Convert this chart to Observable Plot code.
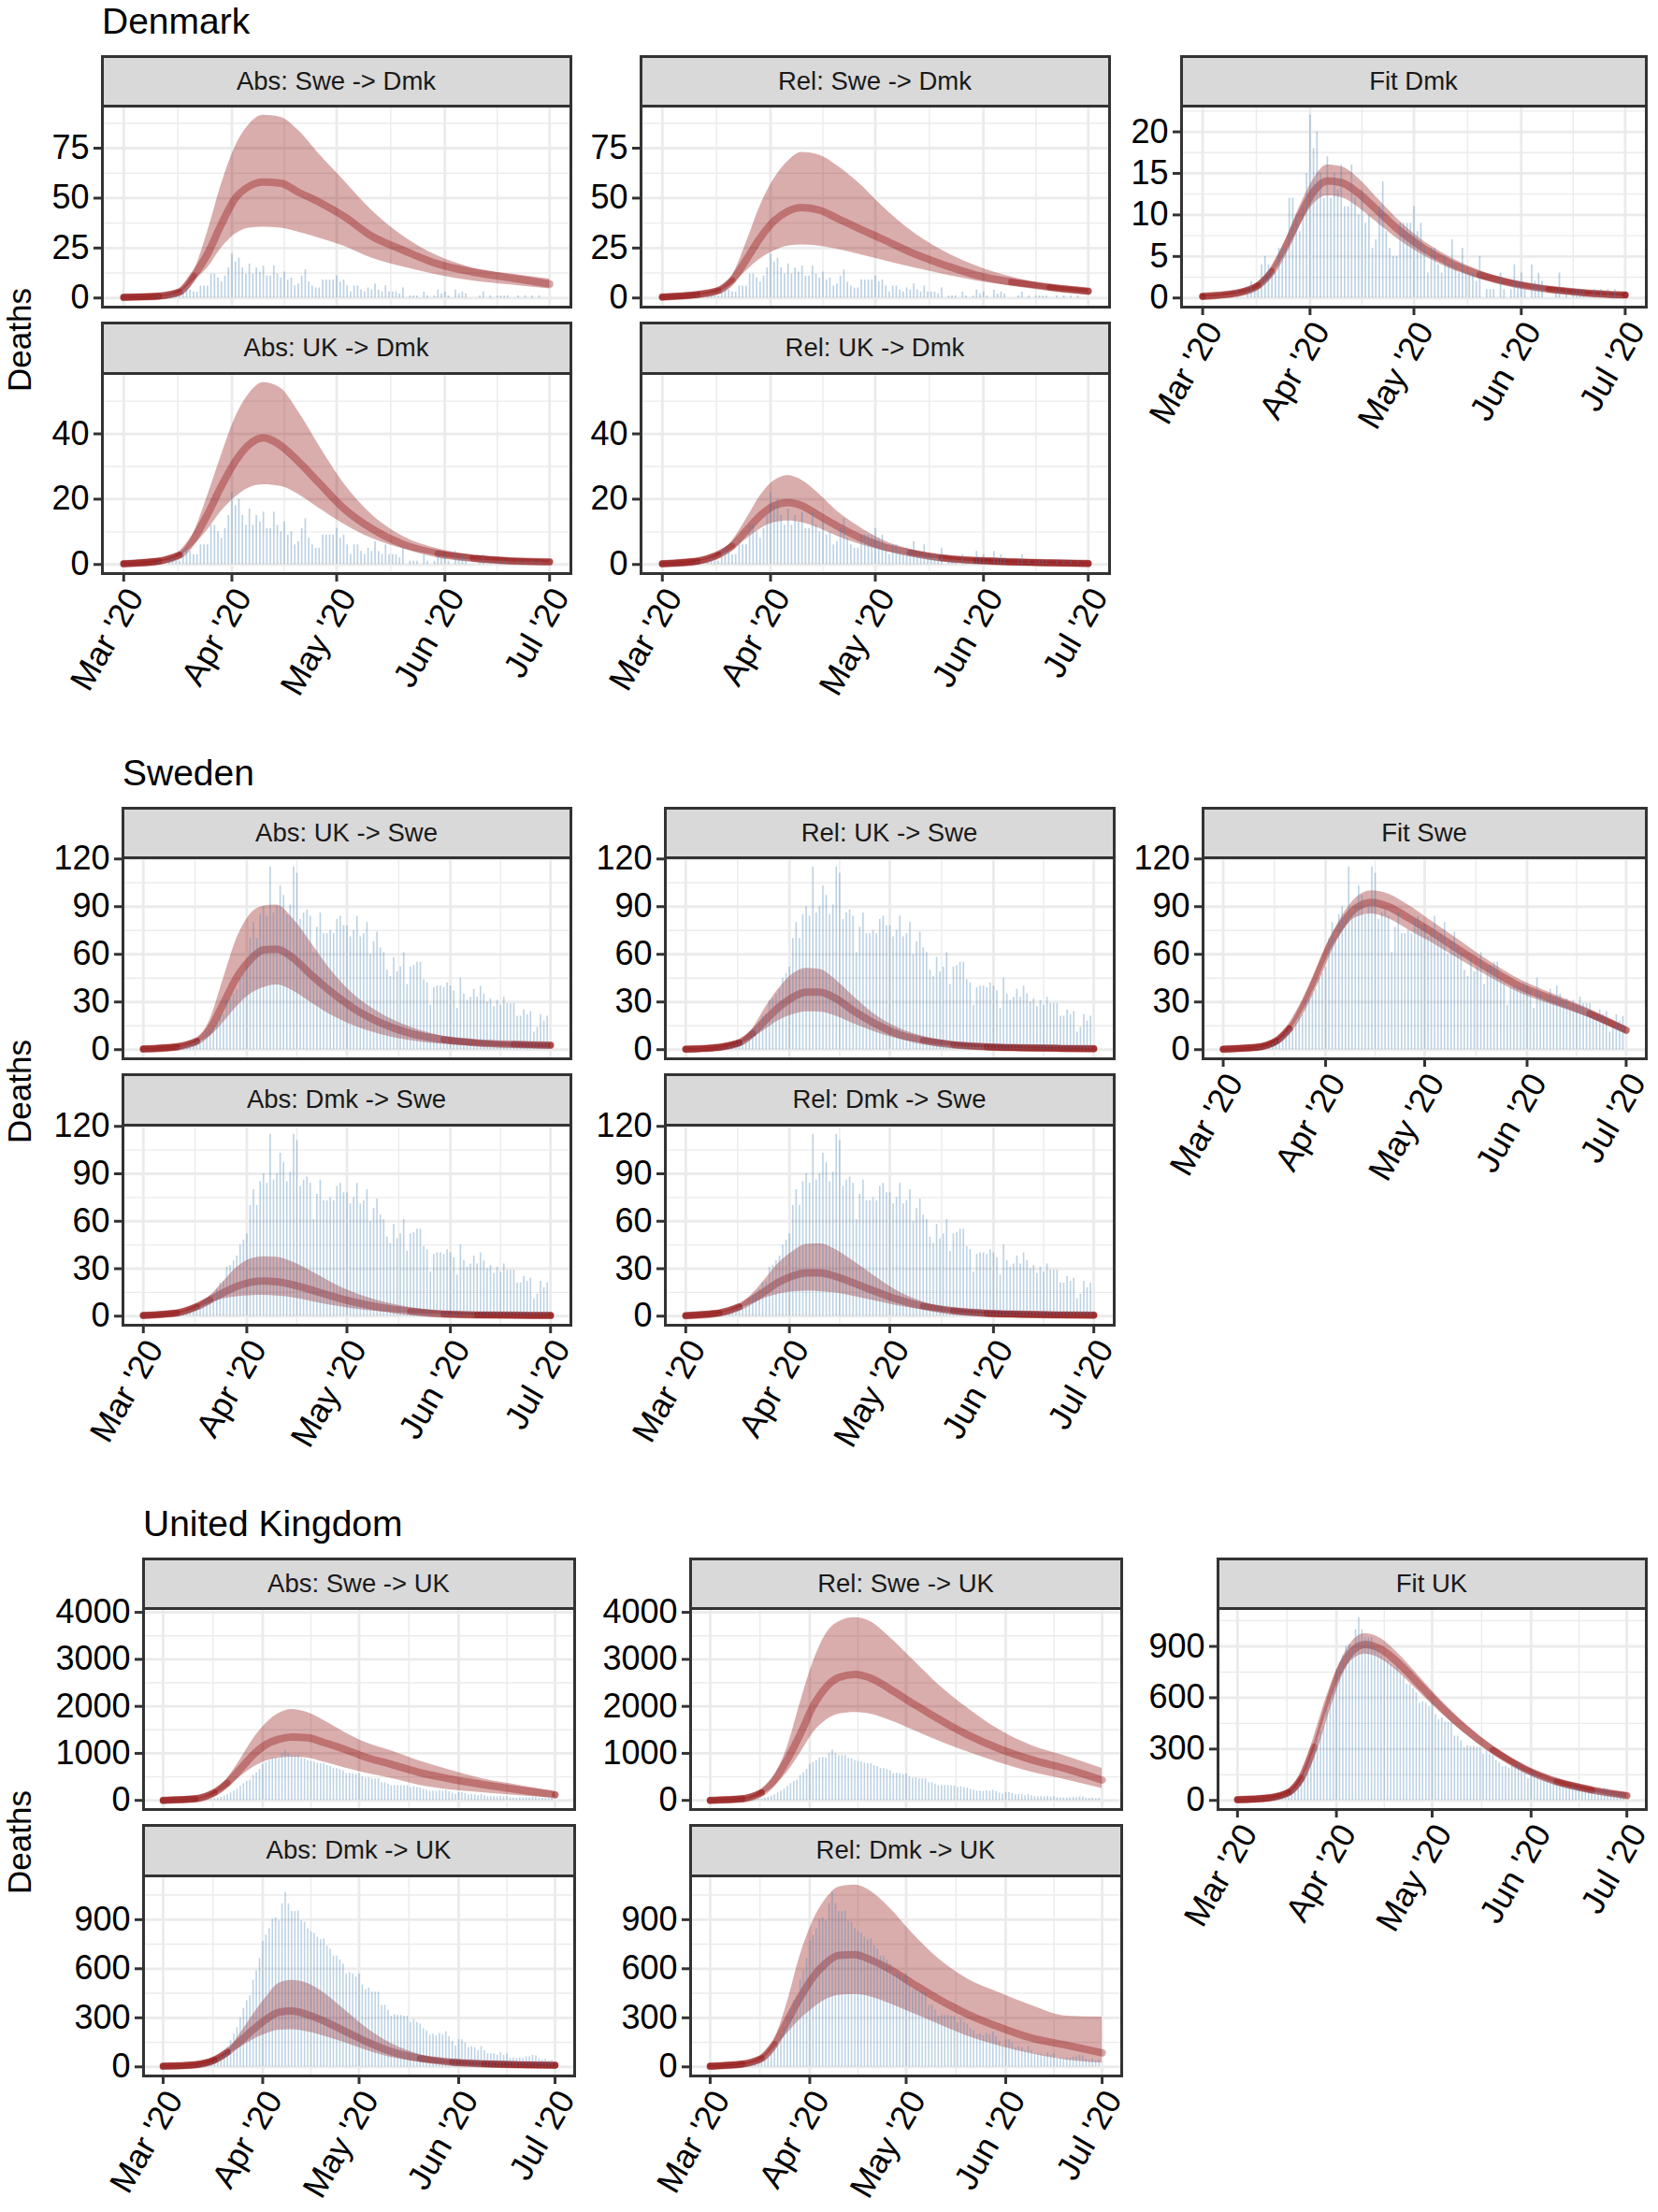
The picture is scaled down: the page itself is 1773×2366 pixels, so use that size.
<!DOCTYPE html>
<html>
<head>
<meta charset="utf-8">
<script src="https://cdn.jsdelivr.net/npm/d3@7"></script>
<script src="https://cdn.jsdelivr.net/npm/@observablehq/plot@0.6"></script>
<style>
  html, body { margin: 0; padding: 0; background: #ffffff; }
  #root { position: relative; width: 1773px; height: 2366px; overflow: hidden;
          font-family: "Liberation Sans", Arial, Helvetica, sans-serif; background: #fff; }
  .strip { position: absolute; box-sizing: border-box; background: #D9D9D9; border: 3px solid #333333;
           display: flex; align-items: center; justify-content: center; font-size: 27.5px; color: #1A1A1A;
           line-height: 1; white-space: nowrap; }
  .title { position: absolute; font-size: 39px; line-height: 1; color: #000; white-space: nowrap; }
  .ylab { position: absolute; width: 240px; height: 35px; font-size: 35px; line-height: 1; text-align: center;
          transform: rotate(-90deg); transform-origin: 50% 50%; color: #000; }
  svg.panel { position: absolute; }
</style>
</head>
<body>
<div id="root"></div>
<script>
// ---------------- data ----------------
const tickDates = ["2020-03-01", "2020-04-01", "2020-05-01", "2020-06-01", "2020-07-01"];
const tickLabels = ["Mar '20", "Apr '20", "May '20", "Jun '20", "Jul '20"];

// daily deaths from 1 Mar 2020 (index 0) to 30 Jun 2020 (index 121)
const deathsDmk = [0,0,0,0,0,0,0,0,0,0, 1,0,0,1,2,1,1,4,5,4, 3,3,6,6,6,12,12,10,8,11,
  15,22,18,20,15,12,17,12,15,13, 16,11,11,16,12,10,13,9,10,6, 7,11,14,8,6,5,5,9,9,9,
  9,11,8,9,6,3,6,6,4,3, 5,4,7,4,3,6,3,3,3,2, 5,0,1,1,1,0,3,1,0,1, 4,2,3,1,0,4,2,3,2,0,
  0,0,1,3,0,1,0,1,1,1, 1,0,0,1,0,1,0,1,0,1, 0,0];
const deathsSwe = [0,0,0,0,0,0,0,0,0,0, 1,1,1,2,3,4,6,6,8,11, 13,14,17,21,22,31,32,35,38,45,
  48,52,70,80,70,85,90,84,115,86, 90,103,97,85,91,115,111,82,86,88, 84,61,77,86,73,73,75,73,82,84,
  78,78,71,75,84,71,73,80,60,68, 74,64,61,50,46,58,49,52,61,41, 52,53,55,55,44,42,28,39,40,40,
  39,42,40,37,26,45,35,31,33,38, 33,40,35,30,32,27,31,28,33,29, 29,29,21,21,25,22,24,11,14,22, 18,21];
const deathsUK = [0,0,0,0,1,1,1,2,3,4, 5,8,10,14,18,25,35,50,65,90, 120,160,200,240,300,357,405,434,530,587,
  663,768,806,845,902,911,892,997,1068,997, 950,950,953,892,883,845,826,816,793,778,
  782,740,720,678,678,654,629,568,577,568, 549,568,501,472,482,457,457,457,376,376,
  348,310,319,315,315,310,310,271,290,271, 262,233,220,195,200,189,204,195,214,185,
  157,128,166,166,147,118,124,118,99,124, 99,80,80,80,71,86,71,80,52,55, 52,55,52,61,61,71,67,48,42,48, 36,42];

// model curves: days after 1 Mar 2020
const curveDays = [0, 10, 16, 20, 24, 28, 32, 36, 40, 45, 50, 56, 63, 71, 80, 90, 100, 111, 122];

const dmkAbsSweMed = [0.3, 0.9, 3, 11, 22, 37, 50, 56, 58, 57.5, 53, 48, 41, 31, 24, 17, 13, 10, 7];
const dmkAbsSweHi  = [0.4, 1.1, 4, 13, 33, 57, 76, 87, 91.5, 90.5, 84, 72, 59, 44, 31, 21, 15, 12, 9.5];
const dmkAbsSweLo  = [0.2, 0.7, 2.5, 8.5, 15, 25, 32, 35, 35.5, 35, 33, 30, 26, 20, 15.5, 11.5, 8.5, 6.5, 4.5];

const dmkRelSweMed = [0.5, 1.7, 3.7, 8.8, 19, 30, 38.5, 43.5, 45.3, 44, 40, 35, 29.5, 23, 17, 11.4, 8, 5.4, 3.4];
const dmkRelSweHi  = [0.6, 2, 4.5, 11, 27.5, 46, 59.7, 68.5, 72.9, 71.5, 66.4, 58, 46, 34, 24, 16, 10.5, 6.6, 4.6];
const dmkRelSweLo  = [0.4, 1.5, 3, 7, 13.5, 19.5, 23.5, 26, 26.6, 26, 24.4, 22, 19, 15.5, 12, 8.5, 6, 4, 2.6];

const dmkAbsUKMed = [0.2, 1, 2.9, 7.7, 15.3, 24, 31.6, 36.8, 38.8, 36.4, 31.6, 24.9, 17.2, 11, 6.2, 3.3, 1.9, 1.1, 0.8];
const dmkAbsUKHi  = [0.3, 1.2, 3.5, 9.6, 21, 33.5, 45, 52.4, 55.7, 54, 46.9, 36.4, 24.9, 15.3, 8.6, 4.8, 2.9, 1.9, 1.4];
const dmkAbsUKLo  = [0.1, 0.8, 2.5, 5.8, 10.5, 16.3, 20.6, 23.5, 24.4, 23.9, 21.5, 17.2, 12.4, 8, 4.8, 2.6, 1.4, 0.8, 0.5];

const dmkRelUKMed = [0.2, 1, 3, 5.6, 10.3, 14.9, 18, 19, 18, 14.9, 11.8, 8.5, 5.6, 3.6, 2, 1.2, 0.8, 0.5, 0.3];
const dmkRelUKHi  = [0.3, 1.2, 3.5, 7.2, 13.8, 21, 25.6, 27.2, 25.8, 21.5, 16.4, 11.8, 7.5, 4.6, 2.8, 1.7, 1.1, 0.7, 0.5];
const dmkRelUKLo  = [0.1, 0.8, 2.5, 4.6, 7.7, 10.8, 12.8, 13.3, 12.8, 11, 8.7, 6.4, 4.3, 2.7, 1.6, 0.9, 0.6, 0.35, 0.2];

const dmkFitMed = [0.2, 0.6, 1.5, 3.2, 6.2, 9.8, 12.8, 14.1, 13.9, 12.6, 10.7, 8.4, 6.2, 4.3, 2.8, 1.7, 1.05, 0.6, 0.35];
const dmkFitHi  = [0.3, 0.8, 1.8, 3.7, 7, 11, 14.3, 16, 15.8, 14.4, 12.2, 9.6, 7.1, 5, 3.3, 2.1, 1.35, 0.8, 0.5];
const dmkFitLo  = [0.1, 0.45, 1.2, 2.7, 5.4, 8.6, 11.3, 12.3, 12.1, 10.9, 9.2, 7.2, 5.3, 3.6, 2.3, 1.35, 0.8, 0.4, 0.2];

const sweAbsUKMed = [0.4, 1.8, 5.3, 13, 29, 45.6, 56.5, 62.8, 63.3, 57.4, 47.6, 36.8, 26, 17, 10.2, 6.3, 4.3, 3.3, 2.8];
const sweAbsUKHi  = [0.5, 2.2, 6.5, 19, 44.7, 70, 85, 90.3, 91, 82, 68, 50.6, 34.8, 23, 14.2, 8.3, 5.9, 4.3, 3.7];
const sweAbsUKLo  = [0.3, 1.5, 4.5, 8.3, 17, 27, 34.8, 39, 40.7, 36.8, 30, 22, 15.1, 9.6, 5.7, 3.3, 2.2, 1.6, 1.2];

const sweRelUKMed = [0.3, 1.5, 4.3, 10.2, 19, 27, 33, 36.2, 36.2, 32, 24.6, 17.1, 10.2, 5.7, 3.1, 1.8, 1.2, 0.8, 0.6];
const sweRelUKHi  = [0.4, 1.8, 5, 13.2, 27, 38.8, 47.6, 51.2, 50.6, 43.7, 33.8, 23, 14.2, 8.3, 4.9, 2.8, 1.8, 1.2, 0.9];
const sweRelUKLo  = [0.2, 1.2, 3.6, 7.5, 13, 18.5, 22, 23.8, 23.6, 21, 16.5, 11.6, 7, 3.9, 2.1, 1.2, 0.8, 0.5, 0.35];

const sweAbsDmkMed = [0.4, 2, 6, 10.3, 14.9, 18.8, 21.4, 22.2, 21.8, 19.8, 16.8, 12.9, 8.9, 5.5, 3, 1.4, 0.8, 0.6, 0.4];
const sweAbsDmkHi  = [0.5, 2.3, 7, 12.9, 21.8, 30.7, 36, 37.6, 37.2, 34, 28.7, 21.8, 14.9, 9.5, 5.5, 3, 1.8, 1.2, 1];
const sweAbsDmkLo  = [0.3, 1.7, 5, 8.3, 10.9, 12.3, 12.9, 13.1, 12.7, 11.5, 9.5, 6.9, 4.6, 2.8, 1.6, 0.9, 0.5, 0.3, 0.2];

const sweRelDmkMed = [0.3, 2, 5.9, 10.6, 16.2, 21.7, 25.4, 27.4, 27.4, 25, 21.1, 16.2, 10.8, 6.3, 3.4, 1.8, 1.2, 0.8, 0.6];
const sweRelDmkHi  = [0.4, 2.4, 7, 14.2, 24, 34, 40.8, 45.4, 45.8, 41.8, 35, 26, 16.2, 8.9, 4.7, 2.6, 1.8, 1.3, 1];
const sweRelDmkLo  = [0.2, 1.7, 5, 8, 11.5, 14, 15.4, 15.8, 15.6, 14.6, 12.6, 9.9, 6.7, 4, 2.2, 1.2, 0.7, 0.4, 0.3];

const sweFitMed = [0.3, 1.4, 5.3, 13.2, 27, 44.7, 64.3, 79, 88.9, 92.7, 90, 83, 74.2, 63.3, 51.5, 39.7, 31.5, 22.6, 12.2];
const sweFitHi  = [0.4, 1.7, 6, 15, 30, 49, 68.5, 84, 95, 100, 98, 91, 81, 69.5, 56.5, 44, 35, 25.5, 14.5];
const sweFitLo  = [0.2, 1.1, 4.6, 11.5, 24, 40.5, 60.5, 74, 83, 85.5, 82.5, 75.5, 67.5, 57.5, 46.5, 35.5, 28, 20, 10];

const ukAbsSweMed = [0, 33, 167, 367, 667, 967, 1187, 1300, 1347, 1333, 1233, 1100, 920, 767, 587, 447, 333, 220, 120];
const ukAbsSweHi  = [5, 40, 200, 467, 867, 1300, 1633, 1847, 1933, 1867, 1700, 1467, 1233, 1053, 833, 633, 453, 320, 187];
const ukAbsSweLo  = [0, 25, 130, 280, 500, 700, 833, 900, 920, 900, 813, 700, 580, 467, 320, 220, 160, 100, 53];

const ukRelSweMed = [0, 33, 167, 433, 867, 1400, 2000, 2400, 2613, 2680, 2600, 2367, 2067, 1733, 1400, 1100, 867, 667, 433];
const ukRelSweHi  = [5, 45, 220, 533, 1133, 2067, 2933, 3533, 3800, 3887, 3800, 3467, 3000, 2467, 1967, 1500, 1167, 933, 680];
const ukRelSweLo  = [0, 25, 120, 300, 600, 1000, 1433, 1700, 1833, 1867, 1833, 1700, 1500, 1267, 1033, 800, 600, 433, 253];

const ukAbsDmkMed = [4, 13, 42, 90, 157, 227, 290, 334, 342, 319, 281, 224, 157, 94, 52, 29, 19, 13, 10];
const ukAbsDmkHi  = [6, 16, 48, 99, 204, 319, 424, 510, 529, 510, 453, 357, 243, 143, 75, 40, 25, 17, 15];
const ukAbsDmkLo  = [2, 10, 36, 75, 118, 166, 201, 224, 227, 214, 189, 151, 103, 57, 29, 13, 8, 4, 2];

const ukRelDmkMed = [4, 17, 52, 138, 281, 424, 548, 634, 682, 686, 654, 596, 510, 415, 323, 243, 176, 132, 86];
const ukRelDmkHi  = [6, 22, 65, 166, 396, 682, 892, 1026, 1099, 1112, 1074, 969, 816, 663, 539, 453, 376, 310, 304];
const ukRelDmkLo  = [2, 13, 42, 118, 204, 290, 357, 411, 438, 443, 428, 386, 329, 262, 189, 128, 80, 42, 23];

const ukFitMed = [4, 15, 46, 129, 313, 552, 755, 874, 911, 883, 810, 696, 561, 423, 294, 184, 110, 61, 28];
const ukFitHi  = [5, 17, 50, 140, 335, 585, 800, 930, 975, 945, 865, 745, 600, 455, 318, 202, 123, 72, 45];
const ukFitLo  = [3, 13, 42, 118, 292, 520, 712, 822, 855, 825, 757, 650, 524, 393, 272, 168, 98, 50, 12];

// y-axis tick values
const yTicksDmkSwe = [0, 25, 50, 75];
const yTicksDmkUK = [0, 20, 40];
const yTicksDmkFit = [0, 5, 10, 15, 20];
const yTicksSwe = [0, 30, 60, 90, 120];
const yTicksUKSwe = [0, 1000, 2000, 3000, 4000];
const yTicksUKDmk = [0, 300, 600, 900];
const yTicksUKFit = [0, 300, 600, 900];

// ---------------- helpers ----------------
const START = Date.UTC(2020, 2, 1);
const END = Date.UTC(2020, 6, 1);
const DAY = 864e5;
const FONT = "'Liberation Sans', Arial, Helvetica, sans-serif";
const DARKRED = "#8B0000";

function mkCurve(med, lo, hi) {
  return curveDays.map((d, i) => ({date: new Date(START + d * DAY), med: med[i], lo: lo[i], hi: hi[i]}));
}
function mkBars(vals) {
  return vals.map((v, i) => ({date: new Date(START + i * DAY), value: v})).filter(d => d.value > 0);
}
const fmtY = d3.format("d");

const root = document.getElementById("root");

function addDiv(cls, text, css) {
  const el = document.createElement("div");
  el.className = cls;
  el.textContent = text;
  Object.assign(el.style, css);
  root.appendChild(el);
  return el;
}

function drawPanel({x0, x1, y0, y1, bars, curve, yMax, yTicks, showX}) {
  const W = x1 - x0, H = y1 - y0;
  const mL = 130, mR = 6, mT = 6, mB = showX ? 175 : 6;
  const yDomain = [-0.05 * yMax, 1.05 * yMax];
  const t0 = new Date(START - 6.1 * DAY), t1 = new Date(END + 6.1 * DAY);
  const step = yTicks[1] - yTicks[0];
  const minorY = [];
  for (let v = yTicks[0] - step / 2; v <= yDomain[1]; v += step) if (v >= yDomain[0]) minorY.push(v);
  const majX = tickDates.map(d => new Date(d));
  const minorX = majX.slice(1).map((d, i) => new Date((+d + +majX[i]) / 2));
  const pxPerDay = W / ((+t1 - +t0) / DAY);
  // width of the uncertainty band in pixels: where it is thin, the overlapping layers look dark
  const pts = curve.map(d => ({...d, bandPx: (d.hi - d.lo) / (yDomain[1] - yDomain[0]) * H}));
  const darkLayers = [3, 6, 10].map(th =>
    Plot.lineY(pts, {x: "date", y: d => (d.bandPx < th ? d.med : NaN), stroke: DARKRED,
                     strokeOpacity: 0.33, strokeWidth: 7, curve: "monotone-x"}));
  const svg = Plot.plot({
    width: W + mL + mR,
    height: H + mT + mB,
    marginLeft: mL, marginRight: mR, marginTop: mT, marginBottom: mB,
    x: {type: "utc", domain: [t0, t1], axis: null},
    y: {domain: yDomain, axis: null},
    style: {fontFamily: FONT, fontSize: "36px", background: "transparent", overflow: "visible", color: "black"},
    marks: [
      Plot.ruleY(minorY, {stroke: "#EBEBEB", strokeWidth: 1.4}),
      Plot.ruleX(minorX, {stroke: "#EBEBEB", strokeWidth: 1.4}),
      Plot.ruleY(yTicks, {stroke: "#EBEBEB", strokeWidth: 2.8}),
      Plot.ruleX(majX, {stroke: "#EBEBEB", strokeWidth: 2.8}),
      Plot.areaY(pts, {x: "date", y1: "lo", y2: "hi", fill: DARKRED, fillOpacity: 0.32, curve: "monotone-x"}),
      Plot.lineY(pts, {x: "date", y: "med", stroke: DARKRED, strokeOpacity: 0.34, strokeWidth: 8, curve: "monotone-x"}),
      ...darkLayers,
      Plot.ruleX(bars, {x: "date", y1: d => 0, y2: "value", stroke: "#4682B4", strokeOpacity: 0.36,
                        strokeWidth: Math.max(1.2, pxPerDay * 0.45)}),
      Plot.frame({stroke: "#333333", strokeWidth: 3}),
      Plot.axisY(yTicks, {anchor: "left", tickSize: 9, tickPadding: 5, fontSize: 36, stroke: "#333333",
                          strokeWidth: 3, fill: "black", tickFormat: fmtY, label: null}),
      showX ? Plot.axisX(majX, {anchor: "bottom", tickSize: 9, tickPadding: 3, fontSize: 36, stroke: "#333333",
                                strokeWidth: 3, fill: "black", tickRotate: -60, textAnchor: "end", lineAnchor: "top",
                                tickFormat: d => tickLabels[d.getUTCMonth() - 2], label: null}) : null
    ]
  });
  svg.classList.add("panel");
  svg.style.left = (x0 - mL) + "px";
  svg.style.top = (y0 - mT) + "px";
  svg.style.maxWidth = "none";
  root.appendChild(svg);
}

function drawStrip(x0, x1, s0, p0, label) {
  addDiv("strip", label, {
    left: (x0 - 1.5) + "px", top: (s0 - 1.5) + "px",
    width: (x1 - x0 + 3) + "px", height: (p0 - s0 + 3) + "px"
  });
}

// ---------------- layout ----------------
const sections = [
  {
    title: "Denmark", offset: 0, cols: [[109, 610], [685, 1186]], fitCol: [1263, 1760], bars: deathsDmk,
    rows: [
      {ticks: yTicksDmkSwe, panels: [
        {label: "Abs: Swe -> Dmk", c: mkCurve(dmkAbsSweMed, dmkAbsSweLo, dmkAbsSweHi)},
        {label: "Rel: Swe -> Dmk", c: mkCurve(dmkRelSweMed, dmkRelSweLo, dmkRelSweHi)}]},
      {ticks: yTicksDmkUK, panels: [
        {label: "Abs: UK -> Dmk", c: mkCurve(dmkAbsUKMed, dmkAbsUKLo, dmkAbsUKHi)},
        {label: "Rel: UK -> Dmk", c: mkCurve(dmkRelUKMed, dmkRelUKLo, dmkRelUKHi)}]}
    ],
    fit: {label: "Fit Dmk", ticks: yTicksDmkFit, c: mkCurve(dmkFitMed, dmkFitLo, dmkFitHi)}
  },
  {
    title: "Sweden", offset: 804, cols: [[131, 610], [711, 1191]], fitCol: [1286, 1760], bars: deathsSwe,
    rows: [
      {ticks: yTicksSwe, panels: [
        {label: "Abs: UK -> Swe", c: mkCurve(sweAbsUKMed, sweAbsUKLo, sweAbsUKHi)},
        {label: "Rel: UK -> Swe", c: mkCurve(sweRelUKMed, sweRelUKLo, sweRelUKHi)}]},
      {ticks: yTicksSwe, panels: [
        {label: "Abs: Dmk -> Swe", c: mkCurve(sweAbsDmkMed, sweAbsDmkLo, sweAbsDmkHi)},
        {label: "Rel: Dmk -> Swe", c: mkCurve(sweRelDmkMed, sweRelDmkLo, sweRelDmkHi)}]}
    ],
    fit: {label: "Fit Swe", ticks: yTicksSwe, c: mkCurve(sweFitMed, sweFitLo, sweFitHi)}
  },
  {
    title: "United Kingdom", offset: 1607, cols: [[153, 614], [738, 1199]], fitCol: [1302, 1760], bars: deathsUK,
    rows: [
      {ticks: yTicksUKSwe, panels: [
        {label: "Abs: Swe -> UK", c: mkCurve(ukAbsSweMed, ukAbsSweLo, ukAbsSweHi)},
        {label: "Rel: Swe -> UK", c: mkCurve(ukRelSweMed, ukRelSweLo, ukRelSweHi)}]},
      {ticks: yTicksUKDmk, panels: [
        {label: "Abs: Dmk -> UK", c: mkCurve(ukAbsDmkMed, ukAbsDmkLo, ukAbsDmkHi)},
        {label: "Rel: Dmk -> UK", c: mkCurve(ukRelDmkMed, ukRelDmkLo, ukRelDmkHi)}]}
    ],
    fit: {label: "Fit UK", ticks: yTicksUKFit, c: mkCurve(ukFitMed, ukFitLo, ukFitHi)}
  }
];

const rowBoxes = [{s0: 60, p0: 113, p1: 328}, {s0: 345, p0: 399, p1: 613}];

for (const sec of sections) {
  const off = sec.offset;
  const barData = mkBars(sec.bars);
  const barMax = d3.max(sec.bars);
  sec.rows.forEach((row, ri) => {
    const box = rowBoxes[ri];
    const yMax = Math.max(barMax, ...row.panels.map(p => d3.max(p.c, d => d.hi)));
    row.panels.forEach((p, ci) => {
      const [x0, x1] = sec.cols[ci];
      drawPanel({x0, x1, y0: off + box.p0, y1: off + box.p1, bars: barData, curve: p.c, yMax,
                 yTicks: row.ticks, showX: ri === 1});
      drawStrip(x0, x1, off + box.s0, off + box.p0, p.label);
    });
  });
  // fit panel
  const fb = rowBoxes[0];
  const [fx0, fx1] = sec.fitCol;
  const fMax = Math.max(barMax, d3.max(sec.fit.c, d => d.hi));
  drawPanel({x0: fx0, x1: fx1, y0: off + fb.p0, y1: off + fb.p1, bars: barData, curve: sec.fit.c, yMax: fMax,
             yTicks: sec.fit.ticks, showX: true});
  drawStrip(fx0, fx1, off + fb.s0, off + fb.p0, sec.fit.label);
  // title and y label
  addDiv("title", sec.title, {left: sec.cols[0][0] + "px", top: (off + 3) + "px"});
  addDiv("ylab", "Deaths", {left: (20 - 120) + "px", top: (off + 363 - 17.5) + "px"});
}
</script>
</body>
</html>
